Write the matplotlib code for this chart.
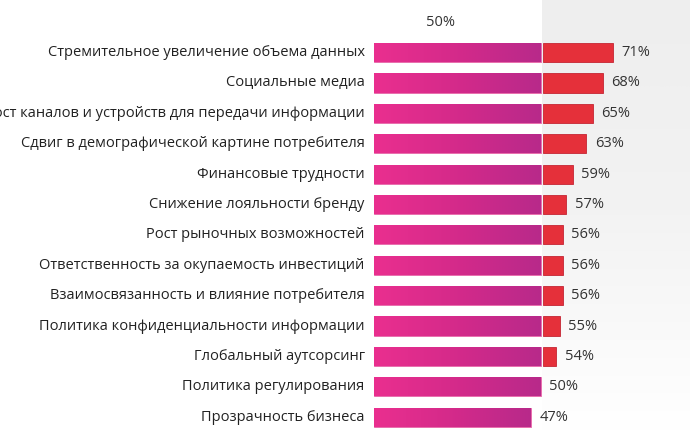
import numpy as np
import matplotlib
matplotlib.use("Agg")
import matplotlib.pyplot as plt
from matplotlib.colors import LinearSegmentedColormap

categories = [
    "Стремительное увеличение объема данных",
    "Социальные медиа",
    "Рост каналов и устройств для передачи информации",
    "Сдвиг в демографической картине потребителя",
    "Финансовые трудности",
    "Снижение лояльности бренду",
    "Рост рыночных возможностей",
    "Ответственность за окупаемость инвестиций",
    "Взаимосвязанность и влияние потребителя",
    "Политика конфиденциальности информации",
    "Глобальный аутсорсинг",
    "Политика регулирования",
    "Прозрачность бизнеса",
]
values = [71, 68, 65, 63, 59, 57, 56, 56, 56, 55, 54, 50, 47]
threshold = 50
value_labels = [f"{v}%" for v in values]
header_label = "50%"

plt.rcParams['font.family'] = ['Open Sans', 'DejaVu Sans']

fig = plt.figure(figsize=(6.9, 4.3), dpi=100)
ax = fig.add_axes([0, 0, 1, 1])
y_lo, y_hi = 12.42, -1.73
ax.set_xlim(-112, 94.6)
ax.set_ylim(y_lo, y_hi)
ax.axis('off')

# background grey panel (gradient top->bottom)
bg_cmap = LinearSegmentedColormap.from_list("bg", ["#eeeeee", "#f3f3f3", "#ffffff"])
grad_v = np.linspace(0, 1, 256).reshape(-1, 1)
ax.imshow(grad_v, cmap=bg_cmap, extent=(threshold + 0.3, 94.6, y_lo, y_hi),
          aspect='auto', zorder=0, interpolation='bicubic')

pink_cmap = LinearSegmentedColormap.from_list("pink", ["#ea2f8f", "#d42a8a", "#b8298a"])
grad_h = np.linspace(0, 1, 256).reshape(1, -1)

y = np.arange(len(categories))
h = 0.63
pink_w = [min(v, threshold) for v in values]

pink_bars = ax.barh(y, pink_w, height=h, color="#d42a8a", edgecolor="#e86aaa",
                    linewidth=0.6, zorder=2)
for bar in pink_bars:
    x0, y0 = bar.get_x(), bar.get_y()
    w, hh = bar.get_width(), bar.get_height()
    im = ax.imshow(grad_h, cmap=pink_cmap, extent=(x0, x0 + w, y0 + hh, y0),
                   aspect='auto', zorder=2.5, interpolation='bicubic')
    im.set_clip_path(bar)

gap = 0.6
red_idx = [i for i, v in enumerate(values) if v > threshold]
red_y = [y[i] for i in red_idx]
red_w = [values[i] - threshold for i in red_idx]
ax.barh(red_y, red_w, left=threshold + gap, height=h, color="#e5303a",
        edgecolor="#c42533", linewidth=0.6, zorder=3)

fs = 10.5
for i, v in enumerate(values):
    end = v + gap if v > threshold else v
    ax.annotate(value_labels[i], (end, i), xytext=(6, 0), textcoords='offset points',
                ha='left', va='center', fontsize=fs, color="#333333", zorder=4)
    ax.text(-2.8, i, categories[i], ha='right', va='center', fontsize=fs,
            color="#222222", zorder=4)

ax.text(19.8, -1.0, header_label, ha='center', va='center', fontsize=fs, color="#333333")

fig.savefig("out.png", dpi=100)
